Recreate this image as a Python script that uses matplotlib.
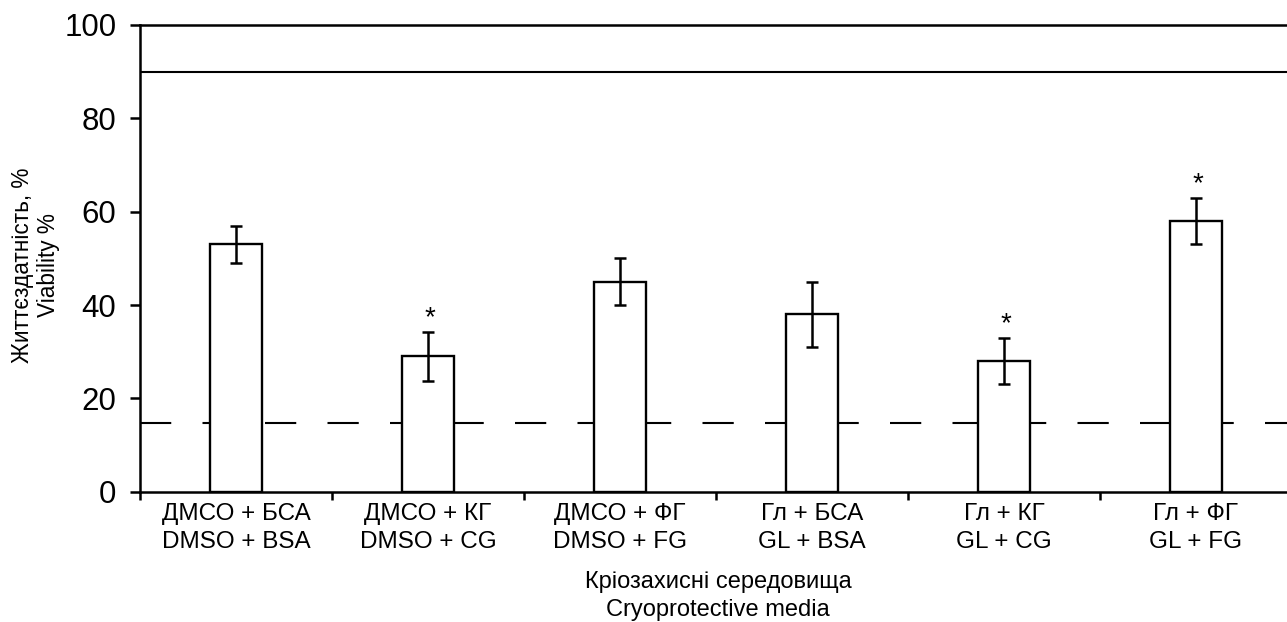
import matplotlib
matplotlib.use("Agg")
import matplotlib.pyplot as plt
import numpy as np

plt.rcParams['font.family'] = ['Liberation Sans', 'DejaVu Sans']
plt.rcParams['lines.scale_dashes'] = False

categories = ["ДМСО + БСА\nDMSO + BSA", "ДМСО + КГ\nDMSO + CG", "ДМСО + ФГ\nDMSO + FG",
              "Гл + БСА\nGL + BSA", "Гл + КГ\nGL + CG", "Гл + ФГ\nGL + FG"]
viability = [53, 29, 45, 38, 28, 58]
errors = [4, 5.3, 5, 7, 5, 5]
significant = [False, True, False, False, True, True]
upper_ref = 90
lower_ref = 14.7
yticks = [0, 20, 40, 60, 80, 100]

W, H = 1287, 622
fig = plt.figure(figsize=(W / 100, H / 100), dpi=100)
ax = fig.add_axes([140 / W, 1 - 491.7 / H, 1152 / W, 466.7 / H])

x = np.arange(len(categories))
ax.bar(x, viability, width=0.276, color='white', edgecolor='black', linewidth=1.7, zorder=3)
ax.errorbar(x, viability, yerr=errors, fmt='none', ecolor='black', elinewidth=1.8,
            capsize=4.5, capthick=1.8, zorder=4)
for xi, v, e, s in zip(x, viability, errors, significant):
    if s:
        ax.annotate('*', (xi, v + e), xytext=(1.5, 4.5), textcoords='offset points',
                    ha='center', va='baseline', fontsize=20)

ax.axhline(upper_ref, color='black', linewidth=1.5, zorder=2)
ax.axhline(lower_ref, color='black', linewidth=1.5, dashes=(22.5, 22.5), zorder=2)

ax.set_xlim(-0.5, len(categories) - 0.5)
ax.set_ylim(0, 100)
ax.set_yticks(yticks)
ax.set_xticks(x)
ax.set_xticklabels(categories, fontsize=17.5, linespacing=1.38)
ax.set_xticks(np.arange(len(categories) + 1) - 0.5, minor=True)
ax.tick_params(axis='x', which='major', length=0, pad=8)
ax.tick_params(axis='x', which='minor', length=6, width=1.8, direction='out')
ax.tick_params(axis='y', labelsize=22.5, length=7, width=1.8, direction='out', pad=10)
for sp in ax.spines.values():
    sp.set_linewidth(1.8)

fig.text(35.5 / W, 1 - 265.5 / H, "Життєздатність, %\nViability %", rotation=90,
         ha='center', va='center', fontsize=16.3, multialignment='center', linespacing=1.2)
fig.text(718 / W, 1 - 596 / H, "Кріозахисні середовища\nCryoprotective media",
         ha='center', va='center', fontsize=17, multialignment='center', linespacing=1.3)

fig.savefig("out.png", dpi=100)
